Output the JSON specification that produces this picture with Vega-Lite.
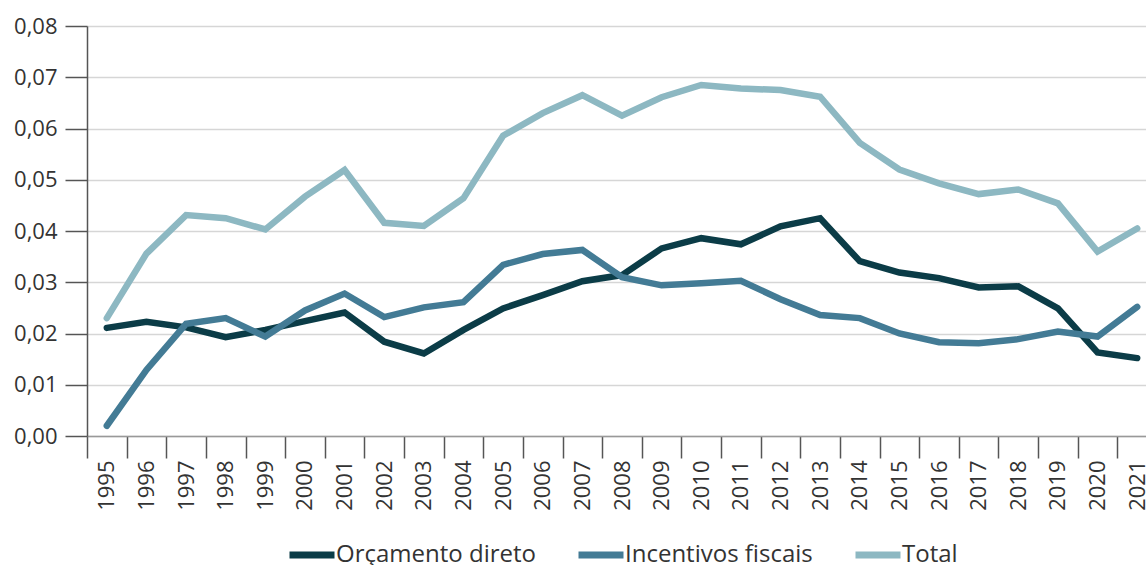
{
  "$schema": "https://vega.github.io/schema/vega-lite/v6.json",
  "autosize": {"type": "none"},
  "padding": {"left": 87, "top": 26, "right": 0, "bottom": 129},
  "width": 1059,
  "height": 410,
  "background": "white",
  "data": {
    "values": [
      {"ano": "1995", "serie": "Orçamento direto", "valor": 0.0211},
      {"ano": "1996", "serie": "Orçamento direto", "valor": 0.0223},
      {"ano": "1997", "serie": "Orçamento direto", "valor": 0.0212},
      {"ano": "1998", "serie": "Orçamento direto", "valor": 0.0193},
      {"ano": "1999", "serie": "Orçamento direto", "valor": 0.0207},
      {"ano": "2000", "serie": "Orçamento direto", "valor": 0.0224},
      {"ano": "2001", "serie": "Orçamento direto", "valor": 0.0241},
      {"ano": "2002", "serie": "Orçamento direto", "valor": 0.0184},
      {"ano": "2003", "serie": "Orçamento direto", "valor": 0.0161},
      {"ano": "2004", "serie": "Orçamento direto", "valor": 0.0207},
      {"ano": "2005", "serie": "Orçamento direto", "valor": 0.0249},
      {"ano": "2006", "serie": "Orçamento direto", "valor": 0.0275},
      {"ano": "2007", "serie": "Orçamento direto", "valor": 0.0302},
      {"ano": "2008", "serie": "Orçamento direto", "valor": 0.0314},
      {"ano": "2009", "serie": "Orçamento direto", "valor": 0.0366},
      {"ano": "2010", "serie": "Orçamento direto", "valor": 0.0386},
      {"ano": "2011", "serie": "Orçamento direto", "valor": 0.0374},
      {"ano": "2012", "serie": "Orçamento direto", "valor": 0.0409},
      {"ano": "2013", "serie": "Orçamento direto", "valor": 0.0425},
      {"ano": "2014", "serie": "Orçamento direto", "valor": 0.0341},
      {"ano": "2015", "serie": "Orçamento direto", "valor": 0.0319},
      {"ano": "2016", "serie": "Orçamento direto", "valor": 0.0308},
      {"ano": "2017", "serie": "Orçamento direto", "valor": 0.0290},
      {"ano": "2018", "serie": "Orçamento direto", "valor": 0.0292},
      {"ano": "2019", "serie": "Orçamento direto", "valor": 0.0249},
      {"ano": "2020", "serie": "Orçamento direto", "valor": 0.0163},
      {"ano": "2021", "serie": "Orçamento direto", "valor": 0.0152},
      {"ano": "1995", "serie": "Incentivos fiscais", "valor": 0.0020},
      {"ano": "1996", "serie": "Incentivos fiscais", "valor": 0.0129},
      {"ano": "1997", "serie": "Incentivos fiscais", "valor": 0.0219},
      {"ano": "1998", "serie": "Incentivos fiscais", "valor": 0.0230},
      {"ano": "1999", "serie": "Incentivos fiscais", "valor": 0.0194},
      {"ano": "2000", "serie": "Incentivos fiscais", "valor": 0.0245},
      {"ano": "2001", "serie": "Incentivos fiscais", "valor": 0.0278},
      {"ano": "2002", "serie": "Incentivos fiscais", "valor": 0.0232},
      {"ano": "2003", "serie": "Incentivos fiscais", "valor": 0.0251},
      {"ano": "2004", "serie": "Incentivos fiscais", "valor": 0.0261},
      {"ano": "2005", "serie": "Incentivos fiscais", "valor": 0.0334},
      {"ano": "2006", "serie": "Incentivos fiscais", "valor": 0.0355},
      {"ano": "2007", "serie": "Incentivos fiscais", "valor": 0.0363},
      {"ano": "2008", "serie": "Incentivos fiscais", "valor": 0.0310},
      {"ano": "2009", "serie": "Incentivos fiscais", "valor": 0.0294},
      {"ano": "2010", "serie": "Incentivos fiscais", "valor": 0.0298},
      {"ano": "2011", "serie": "Incentivos fiscais", "valor": 0.0303},
      {"ano": "2012", "serie": "Incentivos fiscais", "valor": 0.0267},
      {"ano": "2013", "serie": "Incentivos fiscais", "valor": 0.0236},
      {"ano": "2014", "serie": "Incentivos fiscais", "valor": 0.0230},
      {"ano": "2015", "serie": "Incentivos fiscais", "valor": 0.0200},
      {"ano": "2016", "serie": "Incentivos fiscais", "valor": 0.0183},
      {"ano": "2017", "serie": "Incentivos fiscais", "valor": 0.0181},
      {"ano": "2018", "serie": "Incentivos fiscais", "valor": 0.0189},
      {"ano": "2019", "serie": "Incentivos fiscais", "valor": 0.0204},
      {"ano": "2020", "serie": "Incentivos fiscais", "valor": 0.0194},
      {"ano": "2021", "serie": "Incentivos fiscais", "valor": 0.0252},
      {"ano": "1995", "serie": "Total", "valor": 0.0230},
      {"ano": "1996", "serie": "Total", "valor": 0.0356},
      {"ano": "1997", "serie": "Total", "valor": 0.0431},
      {"ano": "1998", "serie": "Total", "valor": 0.0425},
      {"ano": "1999", "serie": "Total", "valor": 0.0403},
      {"ano": "2000", "serie": "Total", "valor": 0.0467},
      {"ano": "2001", "serie": "Total", "valor": 0.0519},
      {"ano": "2002", "serie": "Total", "valor": 0.0416},
      {"ano": "2003", "serie": "Total", "valor": 0.0410},
      {"ano": "2004", "serie": "Total", "valor": 0.0464},
      {"ano": "2005", "serie": "Total", "valor": 0.0586},
      {"ano": "2006", "serie": "Total", "valor": 0.0630},
      {"ano": "2007", "serie": "Total", "valor": 0.0665},
      {"ano": "2008", "serie": "Total", "valor": 0.0625},
      {"ano": "2009", "serie": "Total", "valor": 0.0661},
      {"ano": "2010", "serie": "Total", "valor": 0.0685},
      {"ano": "2011", "serie": "Total", "valor": 0.0678},
      {"ano": "2012", "serie": "Total", "valor": 0.0675},
      {"ano": "2013", "serie": "Total", "valor": 0.0662},
      {"ano": "2014", "serie": "Total", "valor": 0.0572},
      {"ano": "2015", "serie": "Total", "valor": 0.0520},
      {"ano": "2016", "serie": "Total", "valor": 0.0493},
      {"ano": "2017", "serie": "Total", "valor": 0.0472},
      {"ano": "2018", "serie": "Total", "valor": 0.0481},
      {"ano": "2019", "serie": "Total", "valor": 0.0454},
      {"ano": "2020", "serie": "Total", "valor": 0.0360},
      {"ano": "2021", "serie": "Total", "valor": 0.0405}
    ]
  },
  "mark": {"type": "line", "strokeWidth": 6.5, "strokeCap": "round"},
  "encoding": {
    "x": {
      "field": "ano",
      "type": "ordinal",
      "bandPosition": 0.5,
      "scale": {"type": "band", "range": [0, 1070], "paddingInner": 0, "paddingOuter": 0},
      "axis": {
        "title": null,
        "tickBand": "extent",
        "labelAngle": -90,
        "labelAlign": "right",
        "labelBaseline": "middle",
        "labelPadding": 2,
        "tickSize": 22,
        "tickWidth": 1.5,
        "tickColor": "#555555",
        "domainColor": "#999999",
        "domainWidth": 1.5,
        "labelFont": "Open Sans",
        "labelFontSize": 22,
        "labelColor": "#333333",
        "grid": false
      }
    },
    "y": {
      "field": "valor",
      "type": "quantitative",
      "scale": {"domain": [0, 0.08], "nice": false},
      "axis": {
        "title": null,
        "values": [0, 0.01, 0.02, 0.03, 0.04, 0.05, 0.06, 0.07, 0.08],
        "labelExpr": "replace(format(datum.value, '.2f'), '.', ',')",
        "tickSize": 22,
        "tickWidth": 1.5,
        "tickColor": "#555555",
        "domainColor": "#555555",
        "domainWidth": 1.5,
        "labelPadding": 8,
        "labelFont": "Open Sans",
        "labelFontSize": 22,
        "labelColor": "#333333",
        "grid": true,
        "gridColor": "#d6d6d6",
        "gridWidth": 1.5
      }
    },
    "color": {
      "field": "serie",
      "type": "nominal",
      "sort": ["Orçamento direto", "Incentivos fiscais", "Total"],
      "scale": {
        "domain": ["Orçamento direto", "Incentivos fiscais", "Total"],
        "range": ["#0b3c47", "#437b95", "#8db8c2"]
      },
      "legend": {
        "title": null,
        "orient": "none",
        "direction": "horizontal",
        "legendX": 199,
        "legendY": 503,
        "padding": 0,
        "symbolType": "stroke",
        "symbolSize": 2025,
        "symbolStrokeWidth": 7,
        "labelOffset": -2,
        "columnPadding": 28,
        "labelFont": "Open Sans",
        "labelFontSize": 24,
        "labelColor": "#333333",
        "labelLimit": 400
      }
    }
  },
  "config": {"view": {"stroke": null}}
}
